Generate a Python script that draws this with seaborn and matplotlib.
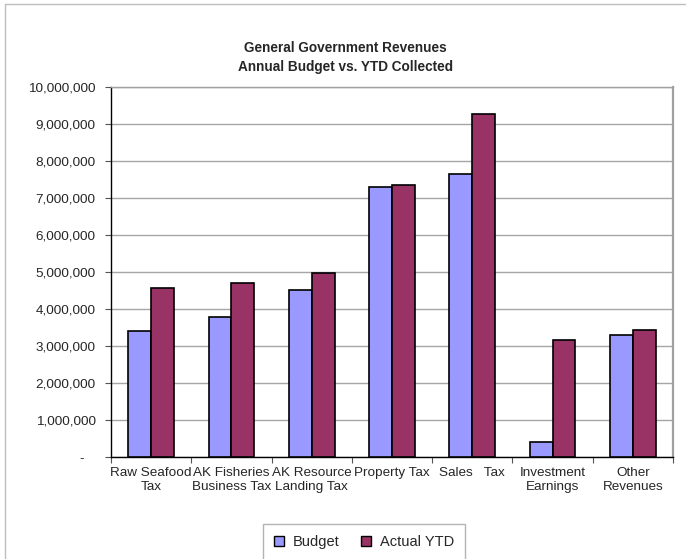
import numpy as np
import pandas as pd
import matplotlib
matplotlib.use('Agg')
import matplotlib.pyplot as plt
import seaborn as sns
from matplotlib.lines import Line2D
from matplotlib.ticker import FuncFormatter, MultipleLocator, FixedLocator

categories = ['Raw Seafood\nTax', 'AK Fisheries\nBusiness Tax', 'AK Resource\nLanding Tax',
              'Property Tax', 'Sales   Tax', 'Investment\nEarnings', 'Other\nRevenues']
budget = [3400000, 3770000, 4500000, 7290000, 7640000, 400000, 3300000]
actual_ytd = [4570000, 4690000, 4970000, 7340000, 9270000, 3150000, 3440000]
series = ['Budget', 'Actual YTD']
colors = {'Budget': '#9999FF', 'Actual YTD': '#993366'}

df = pd.DataFrame({
    'category': categories * 2,
    'series': [series[0]] * len(categories) + [series[1]] * len(categories),
    'value': budget + actual_ytd,
})

sns.set_style('white')
plt.rcParams['font.family'] = ['Liberation Sans', 'DejaVu Sans']

fig = plt.figure(figsize=(6.86, 5.59), dpi=100)
ax = fig.add_axes([111 / 686, 102 / 559, 562 / 686, 370.5 / 559])

sns.barplot(data=df, x='category', y='value', hue='series', palette=colors,
            saturation=1, width=0.57, gap=0, edgecolor='black', linewidth=1.2, ax=ax,
            legend=False, zorder=3)

ax.set_xlim(-0.5, len(categories) - 0.5)
ax.set_ylim(0, 10000000)
ax.yaxis.set_major_locator(MultipleLocator(1000000))
ax.yaxis.set_major_formatter(FuncFormatter(lambda v, p: '-   ' if v == 0 else f'{v:,.0f}'))
ax.grid(axis='y', color='#A6A6A6', linewidth=1.0, zorder=0)
ax.set_axisbelow(True)
ax.set_xlabel('')
ax.set_ylabel('')

ax.tick_params(axis='y', length=4, width=0.8, color='#555555', labelsize=9.7, pad=7, left=True)
ax.tick_params(axis='x', which='major', length=0, labelsize=9.7, pad=7)
ax.xaxis.set_minor_locator(FixedLocator(np.arange(-0.5, len(categories), 1.0)))
ax.tick_params(axis='x', which='minor', length=4, width=0.8, color='#555555', bottom=True)

for s in ['left', 'bottom']:
    ax.spines[s].set_color('black')
    ax.spines[s].set_linewidth(1.0)
ax.spines['top'].set_color('#A0A0A0')
ax.spines['top'].set_linewidth(1.0)
ax.spines['right'].set_color('#A0A0A0')
ax.spines['right'].set_linewidth(1.6)

fig.text(345 / 686, 1 - 48 / 559, 'General Government Revenues', ha='center', va='center',
         fontsize=9.8, fontweight='bold')
fig.text(345 / 686, 1 - 67.5 / 559, 'Annual Budget vs. YTD Collected', ha='center', va='center',
         fontsize=9.8, fontweight='bold')

handles = [plt.Rectangle((0, 0), 1, 1, facecolor=colors[s], edgecolor='black', linewidth=1.0)
           for s in series]
leg = fig.legend(handles, series, loc='upper center', bbox_to_anchor=(364 / 686, 1 - 516.5 / 559),
                 ncol=2, frameon=True, fancybox=False, fontsize=10.5, handlelength=0.7,
                 handleheight=0.7, handletextpad=0.6, columnspacing=1.5, borderpad=0.75)
leg.get_frame().set_edgecolor('#A0A0A0')
leg.get_frame().set_linewidth(1.0)

fig.add_artist(Line2D([4.5 / 686, 4.5 / 686], [0, 1 - 4 / 559], transform=fig.transFigure,
                      color='#BDBDBD', linewidth=1.0))
fig.add_artist(Line2D([4.5 / 686, 1], [1 - 4 / 559, 1 - 4 / 559], transform=fig.transFigure,
                      color='#BDBDBD', linewidth=1.0))

fig.savefig('out.png', dpi=100)
